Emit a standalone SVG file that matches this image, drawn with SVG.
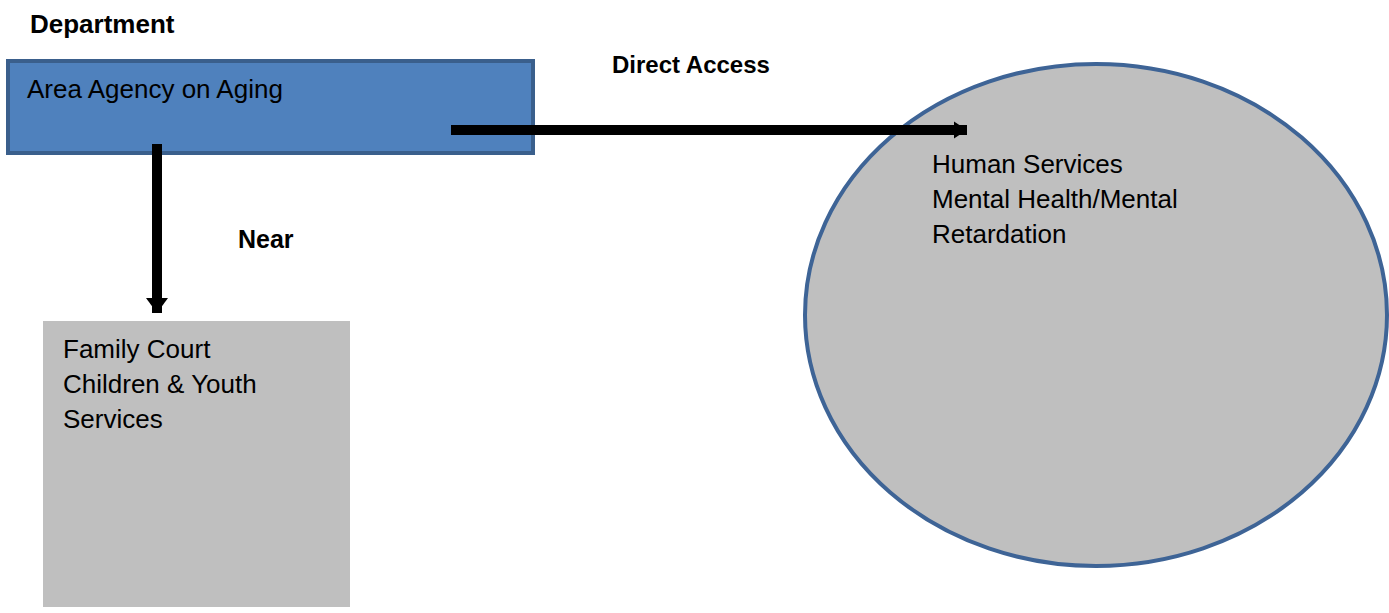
<svg xmlns="http://www.w3.org/2000/svg" width="1389" height="613" viewBox="0 0 1389 613">
<style>
text{font-family:"Liberation Sans",Arial,sans-serif;fill:#000;}
.lbl{font-size:24px;font-weight:bold;}
.node{font-size:26px;}
</style>
<defs>
<marker id="ah" markerUnits="userSpaceOnUse" markerWidth="14" markerHeight="20" refX="13" refY="10" orient="auto">
<path d="M0,1.5 L13,10 L0,18.5 Z" fill="#000"/>
</marker>
<marker id="ah2" markerUnits="userSpaceOnUse" markerWidth="16" markerHeight="24" refX="15" refY="12" orient="auto">
<path d="M0,1 L15,12 L0,23 Z" fill="#000"/>
</marker>
</defs>
<rect width="1389" height="613" fill="#fff"/>
<g id="label-department"><text class="lbl" x="30" y="33" style="font-size:26px">Department</text></g>
<g id="node-circle">
<ellipse cx="1096" cy="315" rx="291" ry="251" fill="#bfbfbf" stroke="#3e6496" stroke-width="4"/>
<text class="node" x="932" y="173">Human Services</text>
<text class="node" x="932" y="208">Mental Health/Mental</text>
<text class="node" x="932" y="243">Retardation</text>
</g>
<g id="node-aaa">
<rect x="8" y="61" width="525" height="92" fill="#4f81bd" stroke="#3a5f8c" stroke-width="4"/>
<text class="node" x="27" y="98">Area Agency on Aging</text>
</g>
<g id="node-family">
<rect x="43" y="321" width="307" height="286" fill="#bfbfbf"/>
<text class="node" x="63" y="358">Family Court</text>
<text class="node" x="63" y="393">Children &amp; Youth</text>
<text class="node" x="63" y="428">Services</text>
</g>
<g id="connectors">
<line x1="451" y1="130" x2="967" y2="130" stroke="#000" stroke-width="10" marker-end="url(#ah)"/>
<line x1="157" y1="144" x2="157" y2="313" stroke="#000" stroke-width="10" marker-end="url(#ah2)"/>
</g>
<g id="edge-labels">
<text class="lbl" x="612" y="73">Direct Access</text>
<text class="lbl" x="238" y="248" style="font-size:25px">Near</text>
</g>
</svg>
